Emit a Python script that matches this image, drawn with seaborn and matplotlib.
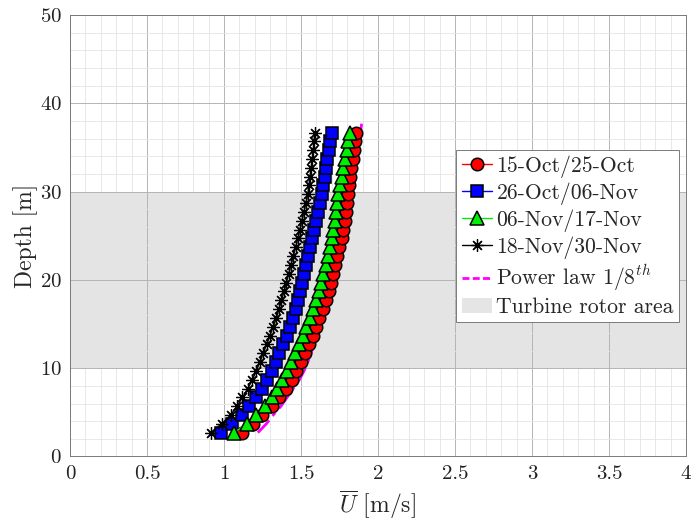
import numpy as np
import pandas as pd
import matplotlib
matplotlib.use("Agg")
import matplotlib.pyplot as plt
import seaborn as sns
from matplotlib.patches import Patch
from matplotlib.lines import Line2D

# ---------------- data ----------------
depth = [2.7, 3.7, 4.7, 5.7, 6.7, 7.7, 8.7, 9.7, 10.7, 11.7, 12.7, 13.7, 14.7,
         15.7, 16.7, 17.7, 18.7, 19.7, 20.7, 21.7, 22.7, 23.7, 24.7, 25.7, 26.7,
         27.7, 28.7, 29.7, 30.7, 31.7, 32.7, 33.7, 34.7, 35.7, 36.7]

u_oct15 = [1.115, 1.19, 1.25, 1.31, 1.355, 1.40, 1.44, 1.47, 1.50, 1.525, 1.55,
           1.575, 1.60, 1.62, 1.64, 1.66, 1.68, 1.695, 1.71, 1.724, 1.737, 1.75,
           1.764, 1.775, 1.785, 1.795, 1.80, 1.805, 1.813, 1.82, 1.828, 1.836,
           1.844, 1.852, 1.86]
u_oct26 = [0.978, 1.05, 1.115, 1.16, 1.205, 1.245, 1.28, 1.31, 1.335, 1.36,
           1.385, 1.41, 1.43, 1.45, 1.465, 1.48, 1.495, 1.508, 1.52, 1.533,
           1.545, 1.558, 1.57, 1.583, 1.596, 1.609, 1.622, 1.634, 1.644, 1.653,
           1.662, 1.672, 1.681, 1.69, 1.70]
u_nov06 = [1.065, 1.147, 1.21, 1.266, 1.31, 1.345, 1.38, 1.41, 1.435, 1.46,
           1.485, 1.51, 1.535, 1.56, 1.58, 1.60, 1.618, 1.632, 1.645, 1.66,
           1.674, 1.687, 1.70, 1.71, 1.72, 1.728, 1.735, 1.742, 1.753, 1.764,
           1.775, 1.786, 1.797, 1.808, 1.818]
u_nov18 = [0.913, 0.985, 1.043, 1.085, 1.12, 1.155, 1.185, 1.21, 1.233, 1.255,
           1.277, 1.298, 1.32, 1.34, 1.357, 1.373, 1.39, 1.405, 1.42, 1.435,
           1.45, 1.465, 1.48, 1.493, 1.506, 1.519, 1.532, 1.545, 1.552, 1.559,
           1.566, 1.573, 1.58, 1.585, 1.59]

depth_pl = [2.7, 3.7, 4.7, 5.7, 6.7, 7.7, 8.7, 9.7, 10.7, 11.7, 12.7, 13.7,
            14.7, 15.7, 16.7, 17.7, 18.7, 19.7, 20.7, 21.7, 22.7, 23.7, 24.7,
            25.7, 26.7, 27.7, 28.7, 29.7, 30.7, 31.7, 32.7, 33.7, 34.7, 35.7,
            36.7, 37.7]
u_pl = [1.22, 1.275, 1.32, 1.37, 1.41, 1.45, 1.49, 1.52, 1.545, 1.565, 1.585,
        1.605, 1.625, 1.645, 1.663, 1.68, 1.695, 1.71, 1.724, 1.737, 1.75,
        1.762, 1.774, 1.785, 1.796, 1.806, 1.816, 1.826, 1.835, 1.844, 1.853,
        1.862, 1.87, 1.878, 1.886, 1.894]

rotor_area = [10, 30]

labels = ["15-Oct/25-Oct", "26-Oct/06-Nov", "06-Nov/17-Nov", "18-Nov/30-Nov"]
pl_label = r"Power law $1/8^{th}$"
rotor_label = "Turbine rotor area"

x_ticks = [0, 0.5, 1, 1.5, 2, 2.5, 3, 3.5, 4]
x_ticklabels = ["0", "0.5", "1", "1.5", "2", "2.5", "3", "3.5", "4"]
y_ticks = [0, 10, 20, 30, 40, 50]

# ---------------- style ----------------
sns.set_style("white")
plt.rcParams["font.family"] = ["cmr10"]
plt.rcParams["mathtext.fontset"] = "cm"
plt.rcParams["axes.formatter.use_mathtext"] = True
FS_TICK = 15
FS_LAB = 17
FS_LEG = 15.6

fig = plt.figure(figsize=(6.95, 5.22), dpi=100)
ax = fig.add_axes([0.1007, 0.1255, 0.8863, 0.8455])

# rotor area band
ax.axhspan(rotor_area[0], rotor_area[1], facecolor="#cbcbcb", alpha=0.5,
           edgecolor="none", zorder=0.5)

# power law (behind the markers)
df_pl = pd.DataFrame({"u": u_pl, "z": depth_pl})
sns.lineplot(data=df_pl, x="u", y="z", sort=False, estimator=None, ax=ax,
             color="magenta", lw=2.0, zorder=2)
ax.lines[-1].set_dashes([6, 2, 1.5, 2])

series = [
    (u_oct15, "red", "o", 9.0, 1.1),
    (u_oct26, "blue", "s", 8.0, 1.1),
    (u_nov06, "#00ee00", "^", 9.5, 1.1),
    (u_nov18, "black", (8, 2, 0), 9.0, 0.9),
]
handles = []
for i, (vals, col, mk, ms, mew) in enumerate(series):
    df = pd.DataFrame({"u": vals, "z": depth})
    sns.lineplot(data=df, x="u", y="z", sort=False, estimator=None, ax=ax,
                 color=col, lw=1.0, marker=mk, markersize=ms,
                 markeredgecolor="black", markerfacecolor=col,
                 markeredgewidth=mew, zorder=3 + i)
    handles.append(Line2D([], [], color=col, lw=1.0, marker=mk, markersize=ms,
                          markeredgecolor="black", markerfacecolor=col,
                          markeredgewidth=mew, label=labels[i]))
handles.append(Line2D([], [], color="magenta", lw=2.0, dashes=[2.5, 1.2],
                      label=pl_label))
handles.append(Patch(facecolor="#e5e5e5", edgecolor="none", label=rotor_label))

# axes, grids
ax.set_xlim(0, 4)
ax.set_ylim(0, 50)
ax.set_xticks(x_ticks)
ax.set_xticklabels(x_ticklabels)
ax.set_yticks(y_ticks)
ax.set_xticks(np.arange(0, 4.01, 0.1), minor=True)
ax.set_yticks(np.arange(0, 50.1, 2), minor=True)
ax.grid(which="major", color="#b4b4b4", lw=0.7, zorder=0)
ax.grid(which="minor", color="#e4e4e4", lw=0.6, zorder=0)
ax.set_axisbelow(True)
ax.tick_params(which="both", direction="in", length=0, labelsize=FS_TICK,
               colors="#222222", pad=6)
for s in ax.spines.values():
    s.set_color("#7a7a7a")
    s.set_linewidth(0.7)
    s.set_visible(True)

ax.set_xlabel(r"$\overline{U}$ [m/s]", fontsize=FS_LAB)
ax.set_ylabel("Depth [m]", fontsize=FS_LAB)
ax.yaxis.set_label_coords(-0.052, 0.5)
ax.xaxis.set_label_coords(0.5, -0.071)

leg = ax.legend(handles=handles, loc="center right",
                bbox_to_anchor=(0.989, 0.499), fontsize=FS_LEG, frameon=True,
                fancybox=False, shadow=False, framealpha=1.0,
                edgecolor="#7a7a7a", handlelength=1.4, handletextpad=0.2,
                labelspacing=0.2, borderpad=0.25, borderaxespad=0.0)
leg.get_frame().set_linewidth(0.7)
leg.set_zorder(10)

fig.savefig("out.png", dpi=100)
